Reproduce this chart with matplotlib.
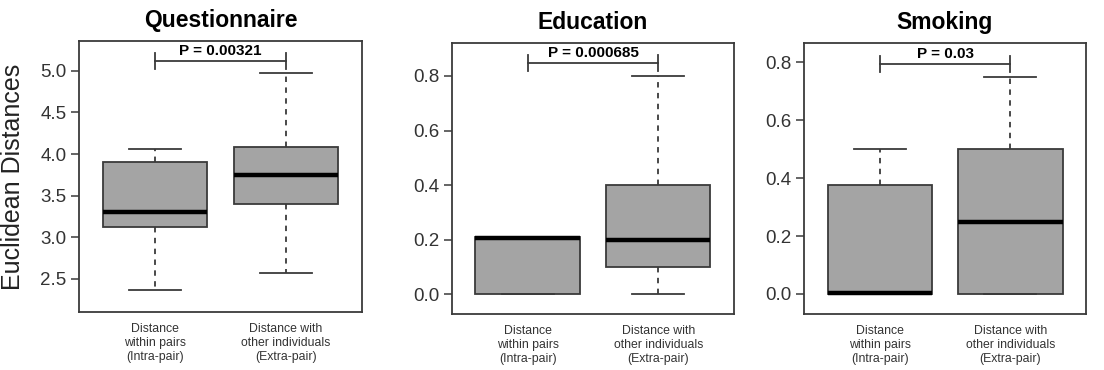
import matplotlib
matplotlib.use("Agg")
import matplotlib.pyplot as plt

plt.rcParams['font.family'] = ['Liberation Sans', 'DejaVu Sans']

titles = ["Questionnaire", "Education", "Smoking"]
groups = ["Distance\nwithin pairs\n(Intra-pair)", "Distance with\nother individuals\n(Extra-pair)"]
p_labels = ["P = 0.00321", "P = 0.000685", "P = 0.03"]

# whisker low, Q1, median, Q3, whisker high  (intra, extra)
quest_intra = [2.37, 3.12, 3.30, 3.90, 4.06]
quest_extra = [2.57, 3.40, 3.75, 4.08, 4.98]
edu_intra = [0.0, 0.0, 0.205, 0.21, 0.21]
edu_extra = [0.0, 0.10, 0.20, 0.40, 0.80]
smoke_intra = [0.0, 0.0, 0.005, 0.375, 0.50]
smoke_extra = [0.0, 0.0, 0.25, 0.50, 0.75]

p_bar_y = [5.12, 0.848, 0.793]
p_tick = [0.096, 0.03, 0.028]
ylims = [(2.10, 5.36), (-0.073, 0.921), (-0.069, 0.866)]
yticks = [[2.5, 3.0, 3.5, 4.0, 4.5, 5.0],
          [0.0, 0.2, 0.4, 0.6, 0.8],
          [0.0, 0.2, 0.4, 0.6, 0.8]]

data = [(quest_intra, quest_extra), (edu_intra, edu_extra), (smoke_intra, smoke_extra)]

fig = plt.figure(figsize=(11.04, 3.70), dpi=100)
rects = [[0.0716, 0.1568, 0.2563, 0.7324],
         [0.4094, 0.1514, 0.2554, 0.7324],
         [0.7283, 0.1514, 0.2554, 0.7324]]

edge = '#3a3a3a'
for i in range(3):
    ax = fig.add_axes(rects[i])
    stats = []
    for vals in data[i]:
        stats.append(dict(whislo=vals[0], q1=vals[1], med=vals[2], q3=vals[3], whishi=vals[4]))
    ax.bxp(stats, positions=[1, 2], widths=0.8, showfliers=False, patch_artist=True,
           boxprops=dict(facecolor='#a4a4a4', edgecolor=edge, linewidth=1.3),
           medianprops=dict(color='black', linewidth=3.2, solid_capstyle='butt'),
           whiskerprops=dict(color=edge, linewidth=1.3, linestyle=(0, (3, 3))),
           capprops=dict(color=edge, linewidth=1.3), capwidths=0.4)
    ax.set_xlim(0.42, 2.58)
    ax.set_ylim(*ylims[i])
    ax.set_yticks(yticks[i])
    ax.set_yticklabels(['%.1f' % t for t in yticks[i]])
    ax.tick_params(axis='y', labelsize=13.5, colors=edge, labelcolor='#333333',
                   length=6, width=1.1, direction='out', pad=3)
    ax.set_xticks([1, 2])
    ax.set_xticklabels(groups, fontsize=8.8, color='#333333', linespacing=1.2)
    ax.tick_params(axis='x', length=0, pad=8)
    for s in ax.spines.values():
        s.set_color(edge)
        s.set_linewidth(1.3)
    ax.set_title(titles[i], fontsize=16.5, fontweight='bold', pad=10)

    # significance bracket
    yb = p_bar_y[i]
    ax.plot([1, 2], [yb, yb], color=edge, lw=1.3)
    ax.plot([1, 1], [yb - p_tick[i], yb + p_tick[i]], color=edge, lw=1.3)
    ax.plot([2, 2], [yb - p_tick[i], yb + p_tick[i]], color=edge, lw=1.3)
    ax.annotate(p_labels[i], xy=(1.5, yb), xytext=(0, 2), textcoords='offset points',
                ha='center', va='bottom', fontsize=11, fontweight='bold')
    if i == 0:
        ax.set_ylabel("Euclidean Distances", fontsize=18, color='#222222')
        ax.yaxis.set_label_coords(-0.19, 0.5)

fig.savefig("out.png", dpi=100)
